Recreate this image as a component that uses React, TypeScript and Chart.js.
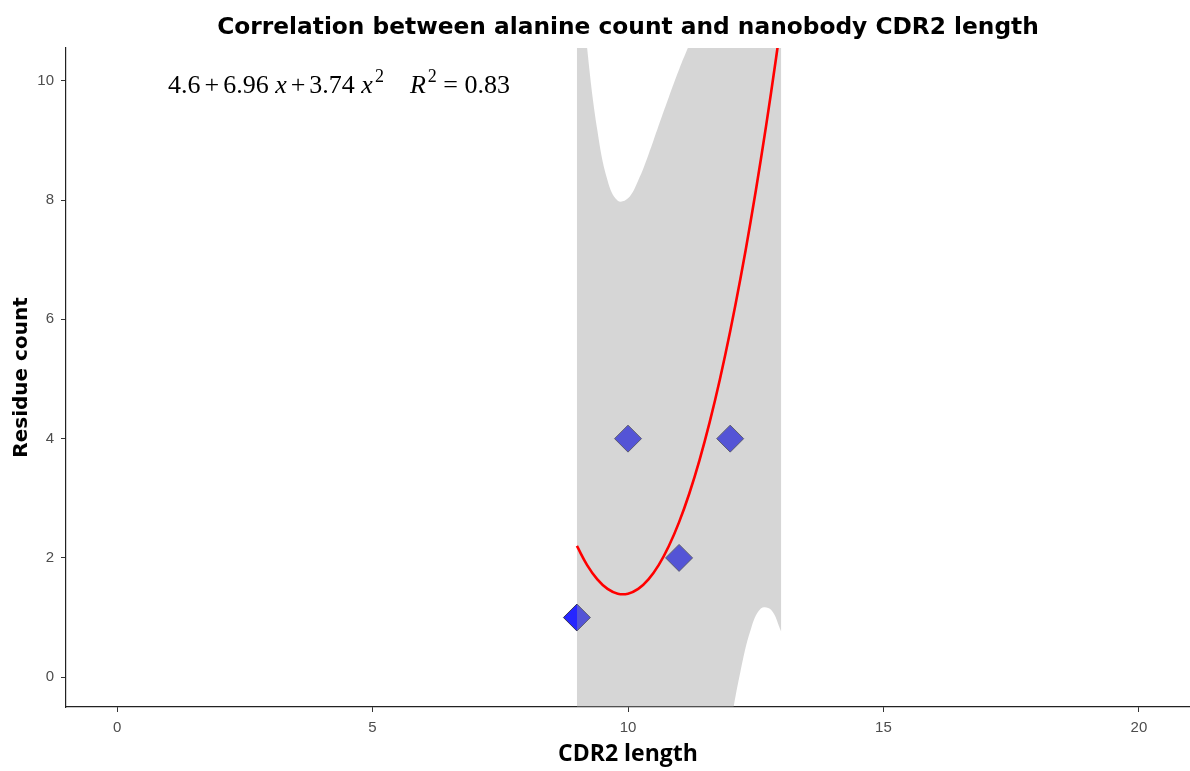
import React, { useEffect, useRef } from 'react';
import { Chart, registerables } from 'chart.js';

Chart.register(...registerables);

const chartTitle = 'Correlation between alanine count and nanobody CDR2 length';
const xAxisTitle = 'CDR2 length';
const yAxisTitle = 'Residue count';

const xTickValues = [0, 5, 10, 15, 20];
const yTickValues = [0, 2, 4, 6, 8, 10];

// observed points (the last one lies above the visible range)
const cdr2Length = [9, 10, 11, 12, 13];
const residueCount = [1, 4, 2, 4, 12];

// fitted curve and its confidence band
const fitX = [9.0, 9.2, 9.4, 9.6, 9.8, 10.0, 10.2, 10.4, 10.6, 10.8, 11.0, 11.2, 11.4, 11.6, 11.8, 12.0, 12.2, 12.4, 12.6, 12.8, 13.0];
const fitY = [2.2, 1.88, 1.64, 1.48, 1.4, 1.4, 1.48, 1.64, 1.88, 2.2, 2.6, 3.08, 3.64, 4.28, 5.0, 5.8, 6.68, 7.64, 8.68, 9.8, 11.0];
const bandLower = [-8.04, -6.79, -5.89, -5.37, -5.19, -5.23, -5.37, -5.48, -5.49, -5.33, -4.99, -4.45, -3.73, -2.84, -1.85, -0.83, 0.09, 0.79, 1.15, 1.13, 0.76];
const bandUpper = [12.44, 10.55, 9.17, 8.33, 7.99, 8.03, 8.33, 8.76, 9.25, 9.73, 10.19, 10.61, 11.01, 11.4, 11.85, 12.43, 13.27, 14.49, 16.21, 18.47, 21.24];

// equation label
const eqIntercept = '4.6';
const eqLinear = '6.96';
const eqQuadratic = '3.74';
const eqRSquared = '0.83';

const overlayPlugin = {
  id: 'overlayText',
  afterDraw(chart: any) {
    const ctx = chart.ctx as CanvasRenderingContext2D;
    const area = chart.chartArea;
    ctx.save();
    // title
    ctx.fillStyle = '#000000';
    ctx.font = 'bold 23.3px "DejaVu Sans"';
    ctx.textAlign = 'center';
    ctx.textBaseline = 'alphabetic';
    ctx.fillText(chartTitle, (area.left + area.right) / 2, 34);

    // equation
    const size = 26;
    const up = `${size}px "Liberation Serif"`;
    const it = `italic ${size}px "Liberation Serif"`;
    const sup = `${Math.round(size * 0.7)}px "Liberation Serif"`;
    const gap = 4;
    const sp = size * 0.25;
    const raise = 11;
    const items: [string, string, number, number][] = [
      [eqIntercept, up, 0, 0],
      ['+', up, gap, 0],
      [eqLinear, up, gap, 0],
      ['x', it, sp, 0],
      ['+', up, gap, 0],
      [eqQuadratic, up, gap, 0],
      ['x', it, sp, 0],
      ['2', sup, 2, raise],
      ['R', it, sp * 4, 0],
      ['2', sup, 2, raise],
      ['=', up, sp, 0],
      [eqRSquared, up, sp, 0],
    ];
    let x = 168;
    const base = 93;
    ctx.textAlign = 'left';
    for (const [t, f, pre, r] of items) {
      x += pre;
      ctx.font = f;
      ctx.fillText(t, x, base - r);
      x += ctx.measureText(t).width;
    }
    ctx.restore();
  },
};

export default function App() {
  const canvasRef = useRef<HTMLCanvasElement | null>(null);

  useEffect(() => {
    const canvas = canvasRef.current;
    if (!canvas) return;
    const toXY = (xs: number[], ys: number[]) => xs.map((x, i) => ({ x, y: ys[i] }));

    const chart = new Chart(canvas, {
      type: 'scatter',
      data: {
        datasets: [
          {
            label: 'fit',
            data: toXY(fitX, fitY),
            showLine: true,
            borderColor: '#FF0000',
            borderWidth: 2.6,
            pointRadius: 0,
            fill: false,
            order: 0,
            clip: 0,
            tension: 0.4,
          } as any,
          {
            label: 'lower',
            data: toXY(fitX, bandLower),
            showLine: true,
            borderWidth: 0,
            borderColor: 'rgba(0,0,0,0)',
            pointRadius: 0,
            fill: false,
            order: 1,
            clip: 0,
            tension: 0.4,
          } as any,
          {
            label: 'upper',
            data: toXY(fitX, bandUpper),
            showLine: true,
            borderWidth: 0,
            borderColor: 'rgba(0,0,0,0)',
            backgroundColor: 'rgba(153,153,153,0.4)',
            pointRadius: 0,
            fill: '-1',
            order: 1,
            clip: 0,
            tension: 0.4,
          } as any,
          {
            label: 'points',
            data: toXY(cdr2Length, residueCount),
            showLine: false,
            pointStyle: 'rectRot',
            pointRadius: 13.5,
            pointHoverRadius: 13.5,
            backgroundColor: 'rgba(0,0,255,0.85)',
            borderColor: 'rgba(50,50,75,0.95)',
            borderWidth: 1,
            order: 2,
          } as any,
        ],
      },
      options: {
        animation: false,
        responsive: false,
        events: [],
        layout: { autoPadding: false, padding: { top: 48, right: 0, bottom: 0, left: 0 } },
        plugins: {
          legend: { display: false },
          tooltip: { enabled: false },
          title: { display: false },
        },
        scales: {
          x: {
            type: 'linear',
            min: -1,
            max: 21,
            afterBuildTicks: (s: any) => {
              s.ticks = xTickValues.map((v) => ({ value: v }));
            },
            afterFit: (s: any) => {
              s.height = 64;
              s.paddingLeft = 0;
              s.paddingRight = 0;
            },
            grid: { display: true, drawOnChartArea: false, drawTicks: true, tickLength: 5, color: '#333333', lineWidth: 1 },
            border: { display: true, color: '#222222', width: 1.2 },
            ticks: { color: '#4D4D4D', font: { family: '"Liberation Sans"', size: 15 }, padding: 7, maxRotation: 0, autoSkip: false },
            title: {
              display: true,
              text: xAxisTitle,
              color: '#000000',
              font: { family: '"Open Sans"', weight: 'bold', size: 23 },
              padding: { top: 0, bottom: 3 },
            },
          },
          y: {
            type: 'linear',
            min: -0.5,
            max: 10.55,
            afterBuildTicks: (s: any) => {
              s.ticks = yTickValues.map((v) => ({ value: v }));
            },
            afterFit: (s: any) => {
              s.width = 66;
              s.paddingTop = 0;
              s.paddingBottom = 0;
            },
            grid: { display: true, drawOnChartArea: false, drawTicks: true, tickLength: 5, color: '#333333', lineWidth: 1 },
            border: { display: true, color: '#222222', width: 1.2 },
            ticks: { color: '#4D4D4D', font: { family: '"Liberation Sans"', size: 15 }, padding: 7, autoSkip: false },
            title: {
              display: true,
              text: yAxisTitle,
              color: '#000000',
              font: { family: '"DejaVu Sans"', weight: 'bold', size: 20 },
              padding: { top: 10, bottom: 0 },
            },
          },
        },
      } as any,
      plugins: [overlayPlugin],
    });

    return () => {
      chart.destroy();
    };
  }, []);

  return (
    <div style={{ position: 'absolute', left: 0, top: 0, width: 1190, height: 771, background: '#ffffff' }}>
      <canvas ref={canvasRef} width={1190} height={771} style={{ display: 'block', width: 1190, height: 771 }} />
    </div>
  );
}
